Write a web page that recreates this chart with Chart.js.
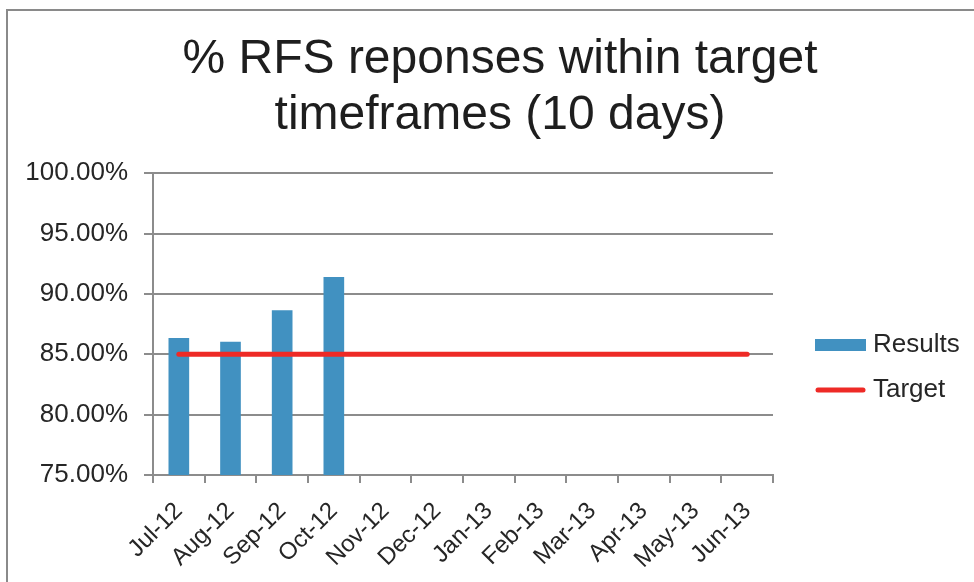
<!DOCTYPE html>
<html>
<head>
<meta charset="utf-8">
<script src="https://cdn.jsdelivr.net/npm/chart.js@4"></script>
<style>
  html, body { margin: 0; padding: 0; background: #fff; }
  #wrap { position: relative; width: 974px; height: 582px; overflow: hidden; }
  #frame { position: absolute; left: 6px; top: 9px; width: 1000px; height: 600px;
           border-top: 2px solid #8a8a8a; border-left: 2px solid #8a8a8a; }
  #chartRfs { position: absolute; left: 0; top: 0; }
</style>
</head>
<body>
<div id="wrap">
  <div id="frame"></div>
  <canvas id="chartRfs" width="974" height="582"></canvas>
</div>
<script>
const months = ['Jul-12', 'Aug-12', 'Sep-12', 'Oct-12', 'Nov-12', 'Dec-12',
                'Jan-13', 'Feb-13', 'Mar-13', 'Apr-13', 'May-13', 'Jun-13'];
const results = [86.35, 86.05, 88.65, 91.4, null, null, null, null, null, null, null, null];
const target = [85, 85, 85, 85, 85, 85, 85, 85, 85, 85, 85, 85];
const yTicks = [75, 80, 85, 90, 95, 100];

const FONT = '"Liberation Sans", Arial, sans-serif';
const GRID = '#8c8c8c';
const BLUE = '#4191c1';
const RED = '#ee2a26';

// legend drawn beside the plot, like the Excel one
const sideLegend = {
  id: 'sideLegend',
  afterDraw(chart) {
    const ctx = chart.ctx;
    const x = chart.chartArea.right + 42;
    const rows = [
      { label: chart.data.datasets[0].label, y: 345, kind: 'box', color: BLUE },
      { label: chart.data.datasets[1].label, y: 390, kind: 'line', color: RED }
    ];
    ctx.save();
    ctx.font = '26px ' + FONT;
    ctx.textBaseline = 'middle';
    rows.forEach(r => {
      if (r.kind === 'box') {
        ctx.fillStyle = r.color;
        ctx.fillRect(x, r.y - 6, 51, 12);
      } else {
        ctx.strokeStyle = r.color;
        ctx.lineWidth = 5;
        ctx.lineCap = 'round';
        ctx.beginPath();
        ctx.moveTo(x + 3, r.y);
        ctx.lineTo(x + 48, r.y);
        ctx.stroke();
      }
      ctx.fillStyle = '#262626';
      ctx.fillText(r.label, x + 58, r.y);
    });
    ctx.restore();
  }
};

const chartRfs = new Chart(document.getElementById('chartRfs'), {
  data: {
    labels: months,
    datasets: [
      {
        type: 'bar',
        label: 'Results',
        data: results,
        backgroundColor: BLUE,
        barPercentage: 0.4,
        categoryPercentage: 1,
        order: 2
      },
      {
        type: 'line',
        label: 'Target',
        data: target,
        borderColor: RED,
        borderWidth: 5,
        borderCapStyle: 'round',
        pointRadius: 0,
        tension: 0,
        order: 1
      }
    ]
  },
  options: {
    responsive: false,
    animation: false,
    layout: { padding: { left: 26, right: 0, bottom: 10, top: 0 } },
    plugins: {
      legend: { display: false },
      tooltip: { enabled: false },
      title: {
        display: true,
        text: ['% RFS reponses within target', 'timeframes (10 days)'],
        color: '#1e1e1e',
        font: { family: FONT, size: 48, weight: 'normal', lineHeight: 1.17 },
        padding: { top: 32, bottom: 29 }
      }
    },
    scales: {
      x: {
        offset: true,
        grid: { drawOnChartArea: false, offset: true, color: GRID, lineWidth: 2, tickLength: 8 },
        border: { color: GRID, width: 2 },
        ticks: {
          color: '#262626',
          font: { family: FONT, size: 24 },
          minRotation: 45,
          maxRotation: 45,
          padding: 14
        },
        afterFit: s => { s.paddingLeft = 0; s.paddingRight = 0; s.height = 97; }
      },
      y: {
        min: 75,
        max: 100,
        afterBuildTicks: axis => { axis.ticks = yTicks.map(v => ({ value: v })); },
        grid: { color: GRID, lineWidth: 2, tickLength: 9 },
        border: { color: GRID, width: 2 },
        ticks: {
          color: '#262626',
          font: { family: FONT, size: 26 },
          padding: 16,
          callback: v => v.toFixed(2) + '%'
        },
        afterFit: s => { s.width = 127; }
      },
      // empty axis that keeps room on the right for the legend
      side: {
        position: 'right',
        display: true,
        grid: { display: false },
        border: { display: false },
        ticks: { display: false },
        afterFit: s => { s.width = 201; }
      }
    }
  },
  plugins: [sideLegend]
});
</script>
</body>
</html>
